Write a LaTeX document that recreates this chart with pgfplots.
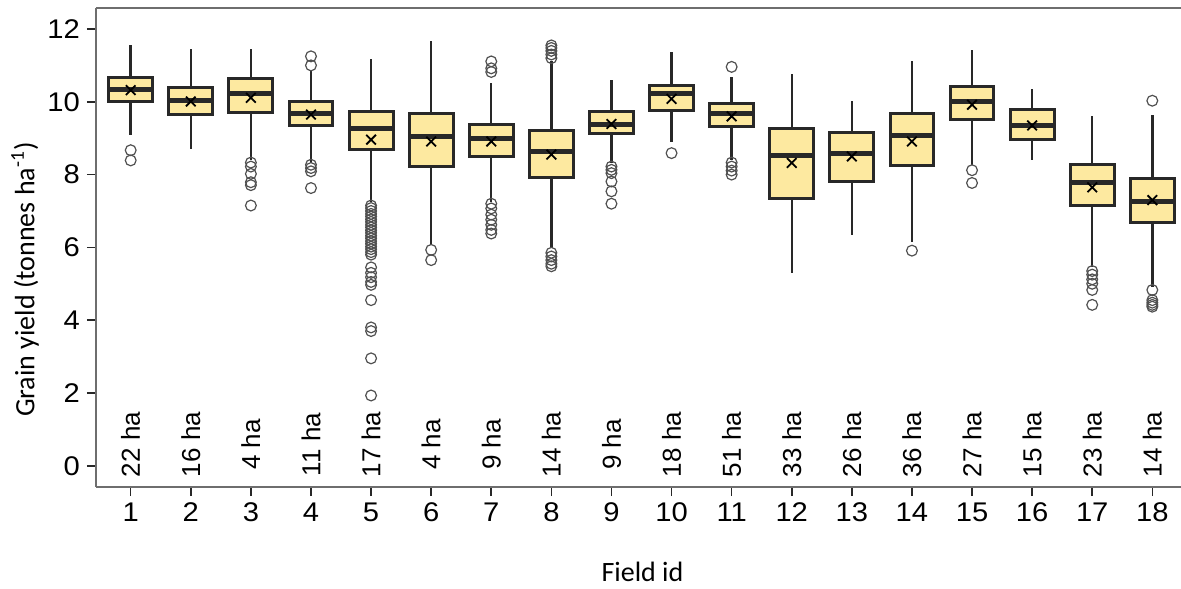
\documentclass[border=0pt]{standalone}
\usepackage{fontspec}
\setmainfont{Carlito}
\newfontfamily\tickfont{Liberation Sans}[FakeStretch=1.08]
\newfontfamily\hafont{Liberation Sans}
\usepackage{pgfplots}
\pgfplotsset{compat=1.18}
\usepgfplotslibrary{statistics}
\definecolor{boxfill}{RGB}{253,233,160}
\definecolor{boxline}{RGB}{40,40,40}
\definecolor{axgray}{RGB}{110,110,110}
\definecolor{outl}{RGB}{80,80,80}
\begin{document}
\begin{tikzpicture}
\begin{axis}[name=ax, scale only axis, width=542.5pt, height=239.5pt,
 xmin=0.4226, xmax=18.4775, ymin=-0.585, ymax=12.578,
 axis x line*=bottom, axis y line*=left,
 axis line style={axgray, line width=0.7pt},
 xtick={1,...,18}, ytick={0,2,...,12},
 tick align=outside, major tick length=4.5pt,
 tick style={boxline, line width=0.8pt},
 ticklabel style={font=\tickfont\fontsize{13.5}{15}\selectfont},
 /pgf/number format/assume math mode=true,
 xlabel={Field id}, ylabel={Grain yield (tonnes ha\textsuperscript{-1})},
 xlabel style={at={(axis description cs:0.5037,-0.1767)}, anchor=center, font=\fontsize{14}{16}\selectfont},
 ylabel style={at={(axis description cs:-0.0654,0.433)}, anchor=center, font=\fontsize{14}{16}\selectfont},
 boxplot/draw direction=y,
 boxplot/box extend=0.73, boxplot/whisker extend=0,
 boxplot/every box/.style={draw=boxline, fill=boxfill, line width=1.5pt},
 boxplot/every whisker/.style={boxline, line width=1.2pt},
 boxplot/every median/.style={boxline, line width=2.5pt},
 clip=false,
]
\draw[axgray, line width=0.7pt] (rel axis cs:0,1) -- (rel axis cs:1,1);
% outliers
\addplot[only marks, mark=o, mark size=2.7pt, mark options={outl, line width=0.6pt}] coordinates {
(1,8.67) (1,8.39)
(3,8.33) (3,8.22) (3,8.02) (3,7.79) (3,7.71) (3,7.15)
(4,11.25) (4,11.0) (4,8.27) (4,8.18) (4,8.09) (4,7.63)
(5,7.15) (5,7.08) (5,7.0) (5,6.92) (5,6.85) (5,6.77) (5,6.7) (5,6.62) (5,6.55) (5,6.47) (5,6.4) (5,6.32) (5,6.25) (5,6.17) (5,6.1) (5,6.02) (5,5.95) (5,5.87) (5,5.8) (5,5.45) (5,5.3) (5,5.18) (5,5.05) (5,4.97) (5,4.55) (5,3.8) (5,3.7) (5,2.95) (5,1.93)
(6,5.93) (6,5.65)
(7,11.11) (7,10.92) (7,10.82) (7,7.2) (7,7.07) (7,6.9) (7,6.76) (7,6.62) (7,6.48) (7,6.38)
(8,11.55) (8,11.48) (8,11.4) (8,11.3) (8,11.2) (8,5.85) (8,5.75) (8,5.65) (8,5.55) (8,5.48)
(9,8.22) (9,8.13) (9,8.04) (9,7.81) (9,7.54) (9,7.2)
(10,8.59)
(11,10.96) (11,8.33) (11,8.22) (11,8.11) (11,8.0)
(14,5.91)
(15,8.12) (15,7.77)
(17,5.35) (17,5.25) (17,5.12) (17,5.0) (17,4.83) (17,4.42)
(18,10.03) (18,4.83) (18,4.55) (18,4.48) (18,4.42) (18,4.37)
};
% boxes
\addplot[boxplot prepared={draw position=1, lower whisker=9.08, lower quartile=10.0, median=10.35, upper quartile=10.68, upper whisker=11.55}] coordinates {};
\addplot[boxplot prepared={draw position=2, lower whisker=8.71, lower quartile=9.65, median=10.04, upper quartile=10.38, upper whisker=11.44}] coordinates {};
\addplot[boxplot prepared={draw position=3, lower whisker=8.41, lower quartile=9.71, median=10.23, upper quartile=10.64, upper whisker=11.44}] coordinates {};
\addplot[boxplot prepared={draw position=4, lower whisker=8.33, lower quartile=9.35, median=9.67, upper quartile=10.0, upper whisker=10.84}] coordinates {};
\addplot[boxplot prepared={draw position=5, lower whisker=7.26, lower quartile=8.69, median=9.28, upper quartile=9.72, upper whisker=11.19}] coordinates {};
\addplot[boxplot prepared={draw position=6, lower whisker=6.07, lower quartile=8.21, median=9.05, upper quartile=9.69, upper whisker=11.68}] coordinates {};
\addplot[boxplot prepared={draw position=7, lower whisker=7.26, lower quartile=8.5, median=8.99, upper quartile=9.39, upper whisker=10.52}] coordinates {};
\addplot[boxplot prepared={draw position=8, lower whisker=5.98, lower quartile=7.91, median=8.64, upper quartile=9.22, upper whisker=11.11}] coordinates {};
\addplot[boxplot prepared={draw position=9, lower whisker=8.32, lower quartile=9.12, median=9.39, upper quartile=9.74, upper whisker=10.61}] coordinates {};
\addplot[boxplot prepared={draw position=10, lower whisker=8.89, lower quartile=9.76, median=10.22, upper quartile=10.45, upper whisker=11.37}] coordinates {};
\addplot[boxplot prepared={draw position=11, lower whisker=8.41, lower quartile=9.31, median=9.69, upper quartile=9.95, upper whisker=10.68}] coordinates {};
\addplot[boxplot prepared={draw position=12, lower whisker=5.29, lower quartile=7.33, median=8.53, upper quartile=9.28, upper whisker=10.77}] coordinates {};
\addplot[boxplot prepared={draw position=13, lower whisker=6.35, lower quartile=7.81, median=8.59, upper quartile=9.17, upper whisker=10.01}] coordinates {};
\addplot[boxplot prepared={draw position=14, lower whisker=6.15, lower quartile=8.24, median=9.08, upper quartile=9.68, upper whisker=11.13}] coordinates {};
\addplot[boxplot prepared={draw position=15, lower whisker=8.27, lower quartile=9.51, median=10.01, upper quartile=10.43, upper whisker=11.42}] coordinates {};
\addplot[boxplot prepared={draw position=16, lower whisker=8.41, lower quartile=8.96, median=9.35, upper quartile=9.8, upper whisker=10.34}] coordinates {};
\addplot[boxplot prepared={draw position=17, lower whisker=5.47, lower quartile=7.15, median=7.79, upper quartile=8.29, upper whisker=9.6}] coordinates {};
\addplot[boxplot prepared={draw position=18, lower whisker=4.9, lower quartile=6.69, median=7.26, upper quartile=7.89, upper whisker=9.63}] coordinates {};
% means
\addplot[only marks, mark=x, mark size=3.4pt, mark options={black, line width=0.9pt}] coordinates {(1,10.32) (2,10.01) (3,10.11) (4,9.65) (5,8.96) (6,8.91) (7,8.91) (8,8.55) (9,9.39) (10,10.08) (11,9.6) (12,8.32) (13,8.5) (14,8.91) (15,9.92) (16,9.35) (17,7.65) (18,7.3)};
% area labels
\tikzset{halab/.style={rotate=90, font=\hafont\fontsize{13}{15}\selectfont, inner sep=0pt, xshift=1.5pt}}
\node[halab] at (axis cs:1,0.5) {22 ha};
\node[halab] at (axis cs:2,0.5) {16 ha};
\node[halab] at (axis cs:3,0.5) {4 ha};
\node[halab] at (axis cs:4,0.5) {11 ha};
\node[halab] at (axis cs:5,0.5) {17 ha};
\node[halab] at (axis cs:6,0.5) {4 ha};
\node[halab] at (axis cs:7,0.5) {9 ha};
\node[halab] at (axis cs:8,0.5) {14 ha};
\node[halab] at (axis cs:9,0.5) {9 ha};
\node[halab] at (axis cs:10,0.5) {18 ha};
\node[halab] at (axis cs:11,0.5) {51 ha};
\node[halab] at (axis cs:12,0.5) {33 ha};
\node[halab] at (axis cs:13,0.5) {26 ha};
\node[halab] at (axis cs:14,0.5) {36 ha};
\node[halab] at (axis cs:15,0.5) {27 ha};
\node[halab] at (axis cs:16,0.5) {15 ha};
\node[halab] at (axis cs:17,0.5) {23 ha};
\node[halab] at (axis cs:18,0.5) {14 ha};
\end{axis}
\pgfresetboundingbox
\path ([xshift=-48pt,yshift=-50.5pt]ax.south west) rectangle ([yshift=4pt]ax.north east);
\end{tikzpicture}
\end{document}
